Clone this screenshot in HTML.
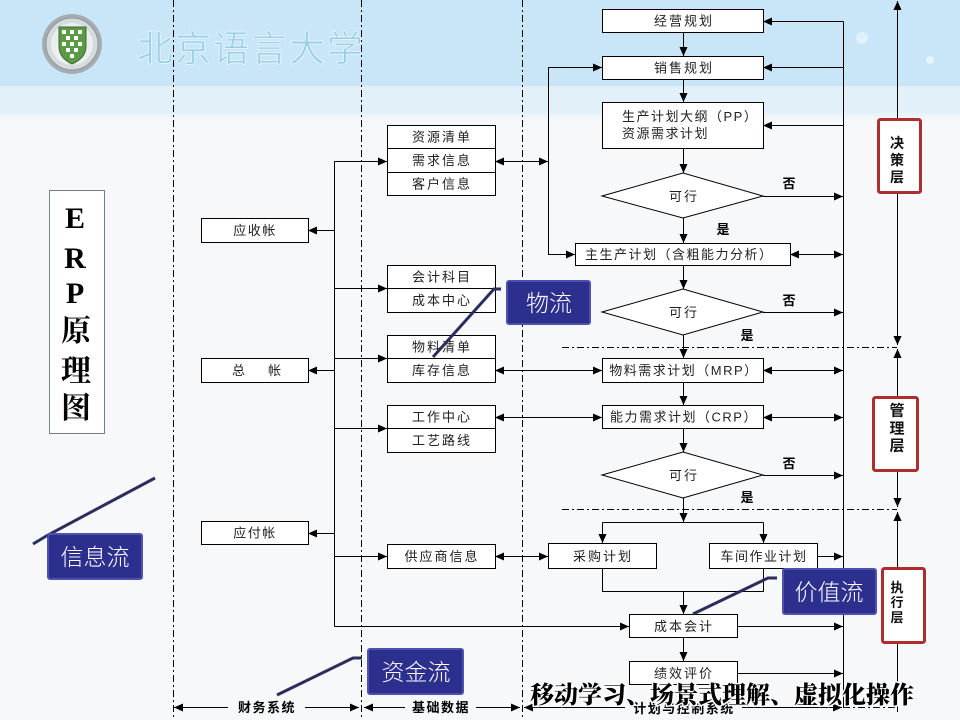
<!DOCTYPE html>
<html><head><meta charset="utf-8"><style>
html,body{margin:0;padding:0;background:#f7f8fa;}
svg{display:block;}
.bx{fill:#fff;stroke:#000;stroke-width:1;}
.c{fill:none;stroke:#000;stroke-width:1;}
.t{font-family:"Liberation Sans","Noto Sans CJK SC",sans-serif;font-size:13px;fill:#222;letter-spacing:2px;}
.b{font-family:"Liberation Sans","Noto Sans CJK SC",sans-serif;font-size:13px;font-weight:700;fill:#000;}
.lay{font-family:"Liberation Sans","Noto Sans CJK SC",sans-serif;font-weight:700;fill:#111;text-anchor:middle;}
.fl{font-family:"Liberation Sans","Noto Sans CJK SC",sans-serif;font-size:23px;fill:#fff;text-anchor:middle;font-weight:300;}
.blue{fill:#2c2f8e;stroke:#4d52ad;stroke-width:2;}
.nav{fill:none;stroke:#2b2d5c;stroke-width:3;}
</style></head><body>
<svg width="960" height="720" viewBox="0 0 960 720" xmlns="http://www.w3.org/2000/svg">
<defs>
<marker id="ah" viewBox="0 0 10 10" refX="10" refY="5" markerWidth="9" markerHeight="9" markerUnits="userSpaceOnUse" orient="auto-start-reverse"><path d="M0,0.5 L10,5 L0,9.5 z" fill="#000"/></marker>
<linearGradient id="fade" x1="0" y1="0" x2="0" y2="1"><stop offset="0" stop-color="#e6f2fa"/><stop offset="1" stop-color="#f7f8fa"/></linearGradient>
</defs>

<!-- background / header -->
<rect x="0" y="0" width="960" height="720" fill="#f7f8fa"/>
<rect x="0" y="0" width="960" height="86" fill="#c8e6f8"/>
<rect x="0" y="86" width="960" height="27" fill="#e2f0fa"/>
<rect x="0" y="113" width="960" height="8" fill="url(#fade)"/>
<circle cx="862" cy="38" r="6" fill="#e6f4fc" opacity="0.8"/>
<circle cx="930" cy="60" r="4" fill="#eef8fd" opacity="0.8"/>

<!-- logo -->
<circle cx="72" cy="44" r="30" fill="#a6adb1"/>
<circle cx="72" cy="44" r="26" fill="#d6dbdd" stroke="#8d969b" stroke-width="1"/>
<circle cx="72" cy="44" r="21" fill="#eceff0"/>
<path d="M59,27 H86 V46 Q86,58 72,64 Q59,58 59,46 Z" fill="#5c9a45" stroke="#3d6b2e" stroke-width="1"/>
<g fill="#fff">
<rect x="62" y="30" width="4" height="4"/><rect x="70" y="30" width="4" height="4"/><rect x="78" y="30" width="4" height="4"/>
<rect x="66" y="36" width="4" height="4"/><rect x="74" y="36" width="4" height="4"/>
<rect x="62" y="42" width="4" height="4"/><rect x="70" y="42" width="4" height="4"/><rect x="78" y="42" width="4" height="4"/>
<rect x="66" y="48" width="4" height="4"/><rect x="74" y="48" width="4" height="4"/>
<rect x="70" y="54" width="4" height="4"/>
</g>
<text x="137" y="61" font-family="'WenQuanYi Zen Hei','Noto Sans CJK SC',sans-serif" font-size="36" fill="#96cde7" stroke="#e4f4fc" stroke-width="0.9" letter-spacing="2">北京语言大学</text>

<!-- dashed verticals -->
<g stroke="#000" stroke-width="1" stroke-dasharray="7 3 2 3" fill="none">
<line x1="173.5" y1="0" x2="173.5" y2="720"/>
<line x1="361.5" y1="0" x2="361.5" y2="720"/>
<line x1="522.5" y1="0" x2="522.5" y2="720"/>
<line x1="562" y1="347.5" x2="897" y2="347.5"/>
<line x1="562" y1="509.5" x2="897" y2="509.5"/>
<line x1="843" y1="707.5" x2="897" y2="707.5"/>
</g>

<!-- connectors -->
<g class="c">
<path d="M683.5,32 V56" marker-end="url(#ah)"/>
<path d="M683.5,79 V102" marker-end="url(#ah)"/>
<path d="M683.5,148 V173" marker-end="url(#ah)"/>
<path d="M683.5,218 V243" marker-end="url(#ah)"/>
<path d="M683.5,265 V289" marker-end="url(#ah)"/>
<path d="M683.5,335 V358" marker-end="url(#ah)"/>
<path d="M683.5,382 V405" marker-end="url(#ah)"/>
<path d="M683.5,428 V452" marker-end="url(#ah)"/>
<path d="M683.5,498 V522" marker-end="url(#ah)"/>
<path d="M602.5,522.5 H763.5"/>
<path d="M602.5,522.5 V543" marker-end="url(#ah)"/>
<path d="M763.5,522.5 V543" marker-end="url(#ah)"/>
<path d="M602.5,568 V591.5 H763.5 V568"/>
<path d="M683.5,591.5 V614" marker-end="url(#ah)"/>
<path d="M683.5,637 V661" marker-end="url(#ah)"/>

<path d="M843.5,21.5 V707"/>
<path d="M843.5,21.5 H763" marker-end="url(#ah)"/>
<path d="M843.5,67.5 H763" marker-end="url(#ah)"/>
<path d="M843.5,125.5 H763" marker-end="url(#ah)"/>
<path d="M763,196.5 H843" marker-end="url(#ah)"/>
<path d="M790,254.5 H843" marker-start="url(#ah)" marker-end="url(#ah)"/>
<path d="M763,312.5 H843" marker-end="url(#ah)"/>
<path d="M763,370.5 H843" marker-start="url(#ah)" marker-end="url(#ah)"/>
<path d="M763,417.5 H843" marker-start="url(#ah)" marker-end="url(#ah)"/>
<path d="M763,475.5 H843" marker-end="url(#ah)"/>
<path d="M817,556.5 H843" marker-end="url(#ah)"/>
<path d="M737,626.5 H843" marker-end="url(#ah)"/>
<path d="M737,673.5 H843" marker-end="url(#ah)"/>

<path d="M602,67.5 H548.5 V254.5 H575" marker-start="url(#ah)" marker-end="url(#ah)"/>
<path d="M495,161.5 H548" marker-start="url(#ah)" marker-end="url(#ah)"/>
<path d="M495,370.5 H602" marker-start="url(#ah)" marker-end="url(#ah)"/>
<path d="M495,417.5 H602" marker-start="url(#ah)" marker-end="url(#ah)"/>
<path d="M495,556.5 H548" marker-start="url(#ah)" marker-end="url(#ah)"/>

<path d="M334.5,161.5 V626.5"/>
<path d="M334.5,161.5 H387" marker-end="url(#ah)"/>
<path d="M334.5,230.5 H308" marker-end="url(#ah)"/>
<path d="M334.5,288.5 H387" marker-end="url(#ah)"/>
<path d="M334.5,358.5 H387" marker-end="url(#ah)"/>
<path d="M334.5,370.5 H308" marker-end="url(#ah)"/>
<path d="M334.5,428.5 H387" marker-end="url(#ah)"/>
<path d="M334.5,533.5 H308" marker-end="url(#ah)"/>
<path d="M334.5,556.5 H387" marker-end="url(#ah)"/>
<path d="M334.5,626.5 H629" marker-end="url(#ah)"/>

<path d="M897.5,119 V1" marker-end="url(#ah)"/>
<path d="M897.5,192 V345" marker-end="url(#ah)"/>
<path d="M897.5,397 V349" marker-end="url(#ah)"/>
<path d="M897.5,470 V507" marker-end="url(#ah)"/>
<path d="M897.5,568 V512" marker-end="url(#ah)"/>
<path d="M897.5,642 V712"/>

<path d="M228,707.5 H174" marker-end="url(#ah)"/>
<path d="M305,707.5 H359" marker-end="url(#ah)"/>
<path d="M405,707.5 H364" marker-end="url(#ah)"/>
<path d="M476,707.5 H520" marker-end="url(#ah)"/>
<path d="M625,707.5 H524" marker-end="url(#ah)"/>
<path d="M742,707.5 H842" marker-end="url(#ah)"/>
</g>

<!-- boxes -->
<rect class="bx" x="602.5" y="9.5" width="161" height="23"/>
<rect class="bx" x="602.5" y="56.5" width="161" height="23"/>
<rect class="bx" x="602.5" y="102.5" width="161" height="46"/>
<rect class="bx" x="575.5" y="243.5" width="215" height="22"/>
<rect class="bx" x="602.5" y="358.5" width="161" height="24"/>
<rect class="bx" x="602.5" y="405.5" width="161" height="23"/>
<rect class="bx" x="548.5" y="543.5" width="108" height="25"/>
<rect class="bx" x="709.5" y="543.5" width="108" height="25"/>
<rect class="bx" x="629.5" y="614.5" width="108" height="23"/>
<rect class="bx" x="629.5" y="661.5" width="108" height="23"/>

<rect class="bx" x="387.5" y="125.5" width="108" height="70"/>
<line class="c" x1="387.5" y1="148.5" x2="495.5" y2="148.5"/>
<line class="c" x1="387.5" y1="172.5" x2="495.5" y2="172.5"/>
<rect class="bx" x="387.5" y="265.5" width="108" height="47"/>
<line class="c" x1="387.5" y1="288.5" x2="495.5" y2="288.5"/>
<rect class="bx" x="387.5" y="335.5" width="108" height="47"/>
<line class="c" x1="387.5" y1="358.5" x2="495.5" y2="358.5"/>
<rect class="bx" x="387.5" y="405.5" width="108" height="47"/>
<line class="c" x1="387.5" y1="428.5" x2="495.5" y2="428.5"/>
<rect class="bx" x="387.5" y="544.5" width="108" height="24"/>

<rect class="bx" x="201.5" y="218.5" width="107" height="24"/>
<rect class="bx" x="201.5" y="358.5" width="107" height="24"/>
<rect class="bx" x="201.5" y="521.5" width="107" height="23"/>

<rect x="49.5" y="190.5" width="55" height="243" fill="#fff" stroke="#6f8090" stroke-width="1"/>

<!-- diamonds -->
<polygon class="bx" points="602,196 683,173 763,196 683,218"/>
<polygon class="bx" points="602,312 683,289 763,312 683,335"/>
<polygon class="bx" points="602,475 683,452 763,475 683,498"/>

<!-- layer boxes -->
<rect x="878.5" y="119.5" width="42" height="73" fill="#fff" stroke="#ad2e2e" stroke-width="3" rx="2"/>
<rect x="873.5" y="397.5" width="44" height="73" fill="#fff" stroke="#ad2e2e" stroke-width="3" rx="2"/>
<rect x="882.5" y="568.5" width="42" height="74" fill="#fff" stroke="#ad2e2e" stroke-width="3" rx="2"/>

<!-- box text -->
<g class="t" text-anchor="middle">
<text x="684" y="25.5">经营规划</text>
<text x="684" y="72.5">销售规划</text>
<text x="684" y="201">可行</text>
<text x="684" y="317">可行</text>
<text x="684" y="480">可行</text>
<text x="684" y="375" letter-spacing="1.5">物料需求计划（MRP）</text>
<text x="684" y="421.5" letter-spacing="1.5">能力需求计划（CRP）</text>
<text x="603" y="561">采购计划</text>
<text x="764" y="561" letter-spacing="1.5">车间作业计划</text>
<text x="684" y="631">成本会计</text>
<text x="684" y="678">绩效评价</text>
<text x="442" y="141.5">资源清单</text>
<text x="442" y="165">需求信息</text>
<text x="442" y="188.5">客户信息</text>
<text x="442" y="281.5">会计科目</text>
<text x="442" y="305">成本中心</text>
<text x="442" y="351.5">物料清单</text>
<text x="442" y="375">库存信息</text>
<text x="442" y="421.5">工作中心</text>
<text x="442" y="445">工艺路线</text>
<text x="442" y="561">供应商信息</text>
<text x="255" y="235" letter-spacing="1.5">应收帐</text>
<text x="255" y="537.5" letter-spacing="1.5">应付帐</text>
</g>
<g class="t">
<text x="622" y="121" letter-spacing="1.5">生产计划大纲（PP）</text>
<text x="622" y="138" letter-spacing="1.5">资源需求计划</text>
<text x="585" y="259" letter-spacing="1.5">主生产计划（含粗能力分析）</text>
<text x="232" y="375">总</text>
<text x="268" y="375">帐</text>
</g>

<!-- yes/no -->
<g class="b" text-anchor="middle">
<text x="789" y="188">否</text>
<text x="789" y="305">否</text>
<text x="789" y="468">否</text>
<text x="723" y="234">是</text>
<text x="747" y="340">是</text>
<text x="747" y="502">是</text>
</g>

<!-- layer labels -->
<g class="lay" font-size="14">
<text x="897" y="148">决</text><text x="897" y="165">策</text><text x="897" y="182">层</text>
</g>
<g class="lay" font-size="15">
<text x="897" y="415.5">管</text><text x="897" y="433.5">理</text><text x="897" y="450.5">层</text>
</g>
<g class="lay" font-size="13">
<text x="897" y="592">执</text><text x="897" y="607">行</text><text x="897" y="622">层</text>
</g>

<!-- ERP title -->
<g font-family="'Liberation Serif','Noto Serif CJK SC',serif" font-weight="700" font-size="30" text-anchor="middle" fill="#000">
<text x="75" y="228">E</text>
<text x="75" y="268">R</text>
<text x="75" y="303">P</text>
<text x="76" y="341">原</text>
<text x="76" y="381">理</text>
<text x="76" y="418">图</text>
</g>

<!-- bottom system labels -->
<g class="b" text-anchor="middle" font-size="13" letter-spacing="1.5">
<text x="267" y="712">财务系统</text>
<text x="441" y="712">基础数据</text>
<text x="684" y="713">计划与控制系统</text>
</g>

<!-- flow labels -->
<polyline class="nav" points="501,289 494,289 433,357"/>
<polyline class="nav" points="155,478 48,535 33,544"/>
<polyline class="nav" points="362,658 353,658 277,695"/>
<polyline class="nav" points="777,578 768,578 693,614"/>

<rect class="blue" x="507" y="281" width="83" height="43" rx="2"/>
<text class="fl" x="549" y="311">物流</text>
<rect class="blue" x="48" y="534" width="94" height="45" rx="2"/>
<text class="fl" x="95" y="565">信息流</text>
<rect class="blue" x="368" y="649" width="95" height="45" rx="2"/>
<text class="fl" x="416" y="680">资金流</text>
<rect class="blue" x="783" y="569" width="93" height="45" rx="2"/>
<text class="fl" x="829" y="600">价值流</text>

<!-- overlay caption -->
<text x="530" y="703" font-family="'Liberation Serif','Noto Serif CJK SC',serif" font-weight="900" font-size="24" fill="#000" stroke="#fff" stroke-width="3" paint-order="stroke">移动学习、场景式理解、虚拟化操作</text>
</svg>
</body></html>
